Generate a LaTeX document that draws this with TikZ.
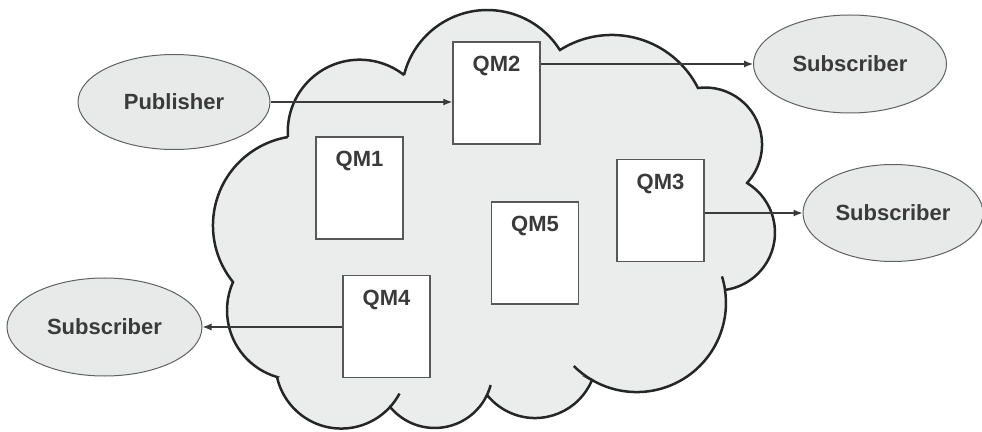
\documentclass[tikz,border=0pt]{standalone}
\usepackage{fontspec}
\setmainfont{Liberation Sans}
\usepackage{xcolor}
\usetikzlibrary{arrows.meta, positioning, shapes.geometric}
\definecolor{cloudfill}{HTML}{EBECEC}
\definecolor{ovalfill}{HTML}{E8E9E9}
\definecolor{inkgray}{HTML}{3A3A3A}
\tikzset{
  qmbox/.style={draw=inkgray!85, line width=1.5pt, fill=white, inner sep=0pt,
    minimum width=87pt, text height=30pt, text depth=72pt,
    font=\fontsize{22}{26}\selectfont\bfseries, text=inkgray},
  client/.style={ellipse, draw=inkgray!80, line width=1pt, fill=ovalfill,
    inner sep=0pt, font=\fontsize{22}{26}\selectfont\bfseries, text=inkgray},
  flow/.style={draw=inkgray, line width=1.2pt, -{Latex[length=9pt,width=7pt]}},
  cloudline/.style={draw=black!85, line width=2.5pt}
}

\begin{document}
\begin{tikzpicture}[x=1pt, y=1pt]
\useasboundingbox (0,0) rectangle (982,431);

% the cloud
\path[fill=cloudfill, cloudline]
  (288,294) arc[start angle=184.3, end angle=51.9, radius=71.9]
  -- (404,356) arc[start angle=165.9, end angle=32.3, radius=85.9]
  -- (560,381) arc[start angle=122.4, end angle=26.8, radius=96.6]
  -- (698,343) arc[start angle=97.2, end angle=-42.6, radius=56.9]
  -- (747,248) arc[start angle=58.9, end angle=-82.1, radius=57.9]
  -- (725,141) arc[start angle=8.3, end angle=-120.2, radius=89.2]
  -- (592,51) arc[start angle=-22.5, end angle=-140.4, radius=61.6]
  -- (486,34) arc[start angle=-27.7, end angle=-140.5, radius=57.9]
  -- (390,24) arc[start angle=-42.3, end angle=-167.4, radius=65.9]
  -- (277,54) arc[start angle=253.7, end angle=156.0, radius=69.5]
  -- (233,149) arc[start angle=219.05, end angle=99.4, radius=89.7]
  -- cycle;
\draw[cloudline] ([shift={(17.3:89.2)}]636.8,128.1) arc[start angle=17.3, end angle=8.3, radius=89.2];
\draw[cloudline] ([shift={(-120.2:89.2)}]636.8,128.1) arc[start angle=-120.2, end angle=-134.9, radius=89.2];
\draw[cloudline] ([shift={(-15:57.9)}]434.7,60.9) arc[start angle=-15, end angle=-27.7, radius=57.9];
\draw[cloudline] ([shift={(-28:65.9)}]341.3,68.35) arc[start angle=-28, end angle=-42.3, radius=65.9];

% queue managers
\node[qmbox] (qm1) at (359.5,243) {QM1};
\node[qmbox] (qm2) at (496.5,338) {QM2};
\node[qmbox] (qm3) at (660.5,220.5) {QM3};
\node[qmbox] (qm4) at (386.5,104.5) {QM4};
\node[qmbox] (qm5) at (535,178) {QM5};

% publisher and subscribers
\node[client, minimum width=192pt, minimum height=95pt] (pub) at (174,329) {Publisher};
\node[client, minimum width=193pt, minimum height=98pt] (subtop) at (850,367) {Subscriber};
\node[client, minimum width=180pt, minimum height=97pt] (subright) at (893,218) {Subscriber};
\node[client, minimum width=195pt, minimum height=98pt] (subleft) at (104.5,104) {Subscriber};

\draw[flow] (pub.east) -- (pub.east -| qm2.west);
\draw[flow] (qm2.east |- subtop.west) -- (subtop.west);
\draw[flow] (qm3.east |- subright.west) -- (subright.west);
\draw[flow] (qm4.west |- subleft.east) -- (subleft.east);
\end{tikzpicture}
\end{document}
